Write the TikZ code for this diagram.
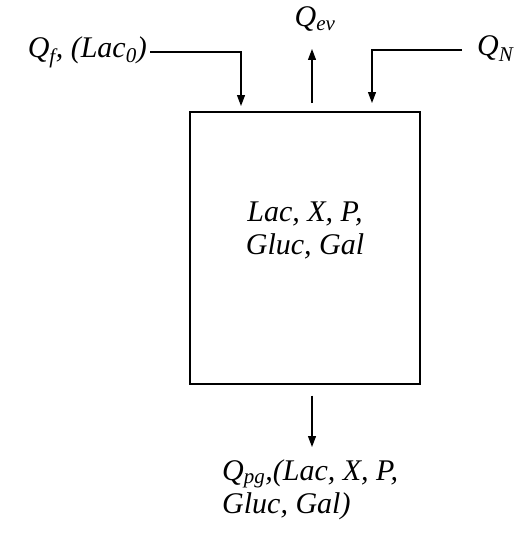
\documentclass[tikz,border=0pt]{standalone}
\usepackage{fontspec}
\setmainfont{Liberation Serif}
\usetikzlibrary{arrows.meta}

\begin{document}
\begin{tikzpicture}[x=1pt,y=-1pt,font=\fontsize{30}{33}\selectfont\itshape,
    flow/.style={line width=1.2pt,-{Triangle[length=11pt,width=8pt]}},
    lbl/.style={inner sep=0pt}]
        \useasboundingbox (0,0) rectangle (523,543);
        \node[draw,line width=1.2pt,minimum width=230pt,minimum height=272pt] (reactor) at (305,248) {};
        \node[lbl,align=center,anchor=base] (states) at (305,254) {Lac, X, P,\\Gluc, Gal};
        \node[lbl,anchor=base east] (qf) at (147,57) {Q\textsubscript{f}, (Lac\textsubscript{0})};
        \node[lbl,anchor=base] (qev) at (315,27) {Q\textsubscript{ev}};
        \node[lbl,anchor=base west] (qn) at (477,56) {Q\textsubscript{N}};
        \node[lbl,anchor=base west,align=left] (qpg) at (222,513) {Q\textsubscript{pg},(Lac, X, P,\\Gluc, Gal)};
        % free ends of the connectors
        \coordinate (fstart) at ([xshift=3pt,yshift=5pt]qf.base east);
        \coordinate (nstart) at ([xshift=-15pt,yshift=6pt]qn.base west);
        \coordinate (inL) at (241,106);
        \coordinate (inR) at (372,103);
        \coordinate (evap) at ([yshift=-22pt]qev.base);
        \coordinate (evapB) at (312,103);
        \coordinate (outB) at (312,447);
        \draw[flow] (fstart) -| (inL);
        \draw[flow] (nstart) -| (inR);
        \draw[flow] (evapB) -- (evap -| evapB);
        \draw[flow] ([yshift=-11pt]reactor.south -| outB) -- (outB);
      \end{tikzpicture}
\end{document}
